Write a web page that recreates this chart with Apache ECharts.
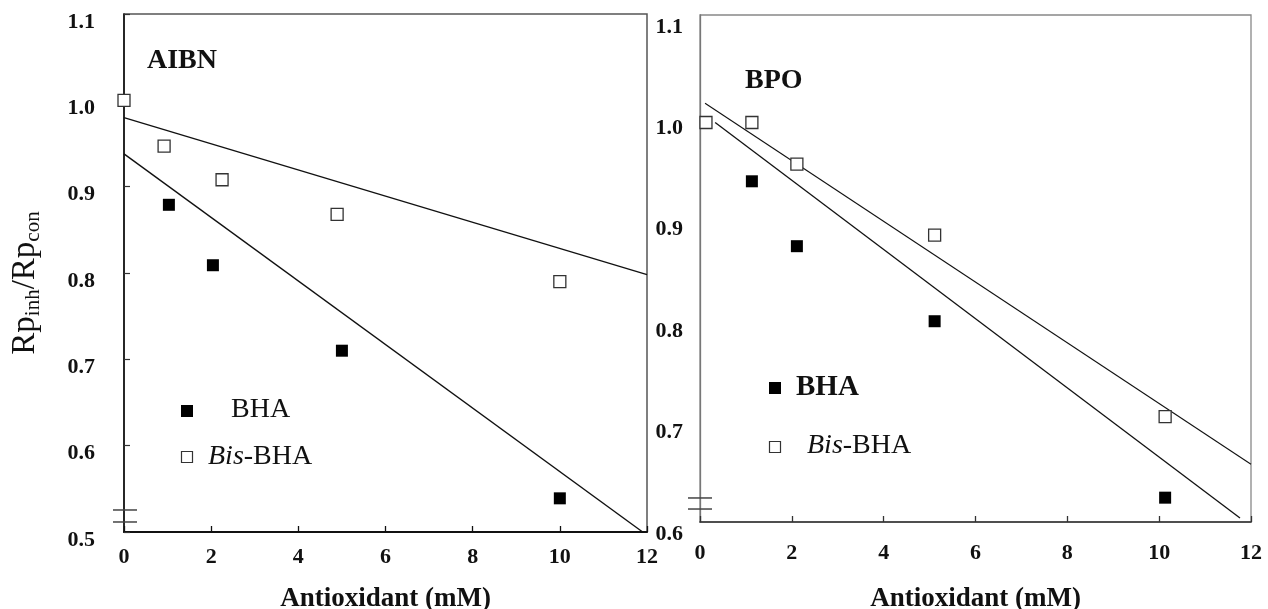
<!DOCTYPE html>
<html>
<head>
<meta charset="utf-8">
<script src="https://cdn.jsdelivr.net/npm/echarts@6/dist/echarts.min.js"></script>
<style>
  html, body { margin: 0; padding: 0; background: #fff; }
  #chart { width: 1268px; height: 609px; }
</style>
</head>
<body>
<div id="chart"></div>
<script>
// AIBN panel (left)
var aibnBha = [[1.03, 0.879], [2.04, 0.809], [5.0, 0.710], [10.0, 0.539]];
var aibnBis = [[0, 1.0], [0.92, 0.947], [2.25, 0.908], [4.89, 0.868], [10.0, 0.790]];
var aibnBhaFit = [[0, 0.938], [11.9, 0.5]];
var aibnBisFit = [[0, 0.980], [12, 0.798]];
var aibnBreaks = [0.5255, 0.5116];

// BPO panel (right)
var bpoBha = [[1.13, 0.936], [2.11, 0.872], [5.11, 0.798], [10.13, 0.624]];
var bpoBis = [[0.13, 0.994], [1.13, 0.994], [2.11, 0.953], [5.11, 0.883], [10.13, 0.704]];
var bpoBhaFit = [[0.33, 0.994], [11.76, 0.604]];
var bpoBisFit = [[0.11, 1.013], [12, 0.657]];
var bpoBreaks = [0.6237, 0.6128];

var xRange = [0, 12];
var aibnYRange = [0.5, 1.1];
var bpoYRange = [0.6, 1.1];

var serif = '"Liberation Serif", "Times New Roman", serif';
var ink = '#111';

var chart = echarts.init(document.getElementById('chart'));

function xAxisOf(grid, lineW, lineColor, margin, gap) {
  return {
    gridIndex: grid, type: 'value', min: xRange[0], max: xRange[1], interval: 2,
    axisLine: { onZero: false, lineStyle: { color: lineColor, width: lineW } },
    axisTick: { inside: true, length: 6, lineStyle: { color: lineColor, width: 1.3 } },
    axisLabel: { color: ink, fontFamily: serif, fontWeight: 'bold', fontSize: 22, margin: margin },
    splitLine: { show: false },
    name: 'Antioxidant (mM)', nameLocation: 'middle', nameGap: gap,
    nameTextStyle: { color: ink, fontFamily: serif, fontWeight: 'bold', fontSize: 27 }
  };
}

// y tick labels sit a little below their ticks in the original
function yLabel(margin, drop) {
  return {
    color: ink, fontFamily: serif, fontWeight: 'bold', fontSize: 22, margin: margin,
    formatter: function (v) { return '{t|' + v.toFixed(1) + '}'; },
    rich: { t: { fontFamily: serif, fontWeight: 'bold', fontSize: 22, color: ink, padding: [drop * 2, 0, 0, 0] } }
  };
}

function lineSeries(ax, data, w) {
  return {
    type: 'line', xAxisIndex: ax, yAxisIndex: ax, data: data, symbol: 'none', silent: true,
    clip: false, lineStyle: { color: ink, width: w }, z: 2
  };
}

function filled(ax, data) {
  return {
    type: 'scatter', xAxisIndex: ax, yAxisIndex: ax, data: data, symbol: 'rect', symbolSize: 12,
    itemStyle: { color: '#000', opacity: 1 }, z: 5
  };
}

function open(ax, data) {
  return {
    type: 'scatter', xAxisIndex: ax, yAxisIndex: ax, data: data, symbol: 'rect', symbolSize: 12,
    itemStyle: { color: '#fff', borderColor: '#333', borderWidth: 1.3, opacity: 1 }, z: 5
  };
}

chart.setOption({
  backgroundColor: '#fff',
  animation: false,
  grid: [
    { left: 124, top: 14, width: 523, height: 518, show: true, borderColor: '#555', borderWidth: 1.5, containLabel: false, outerBoundsMode: 'none' },
    { left: 700, top: 15, width: 551, height: 507, show: true, borderColor: '#888', borderWidth: 1.3, containLabel: false, outerBoundsMode: 'none' }
  ],
  xAxis: [
    xAxisOf(0, 2, ink, 14, 54),
    xAxisOf(1, 1.6, '#333', 20, 64)
  ],
  yAxis: [
    {
      gridIndex: 0, type: 'value', min: aibnYRange[0], max: aibnYRange[1], interval: 0.1,
      axisLine: { onZero: false, lineStyle: { color: ink, width: 1.6 } },
      axisTick: { inside: true, length: 6, lineStyle: { color: '#333', width: 1.2 } },
      axisLabel: yLabel(29, 8),
      splitLine: { show: false }
    },
    {
      gridIndex: 1, type: 'value', min: bpoYRange[0], max: bpoYRange[1], interval: 0.1,
      axisLine: { onZero: false, lineStyle: { color: '#777', width: 1.3 } },
      axisTick: { show: false },
      axisLabel: yLabel(17, 12),
      splitLine: { show: false }
    }
  ],
  series: [
    lineSeries(0, aibnBhaFit, 1.4),
    lineSeries(0, aibnBisFit, 1.3),
    filled(0, aibnBha),
    open(0, aibnBis),
    lineSeries(1, bpoBhaFit, 1.3),
    lineSeries(1, bpoBisFit, 1.1),
    filled(1, bpoBha),
    open(1, bpoBis)
  ],
  graphic: [
    {
      id: 'ytitle', type: 'text', x: 25, y: 283, rotation: Math.PI / 2,
      style: {
        text: '{m|Rp}{s|inh}{m|/Rp}{s|con}', align: 'center', verticalAlign: 'middle', fill: ink,
        rich: {
          m: { fontFamily: serif, fontSize: 33, fill: ink, color: ink },
          s: { fontFamily: serif, fontSize: 21, fill: ink, color: ink, padding: [16, 0, 0, 0] }
        }
      }
    },
    { id: 'aibn', type: 'text', x: 147, y: 61, style: { text: 'AIBN', font: 'bold 28px ' + serif, fill: ink, verticalAlign: 'middle' } },
    { id: 'bpo', type: 'text', x: 745, y: 81, style: { text: 'BPO', font: 'bold 28px ' + serif, fill: ink, verticalAlign: 'middle' } },

    // left legend
    { id: 'lg1', type: 'rect', shape: { x: 181, y: 405, width: 12, height: 12 }, style: { fill: '#000' } },
    { id: 'lt1', type: 'text', x: 231, y: 410, style: { text: 'BHA', font: '28px ' + serif, fill: ink, verticalAlign: 'middle' } },
    { id: 'lg2', type: 'rect', shape: { x: 181.5, y: 451.5, width: 11, height: 11 }, style: { fill: '#fff', stroke: '#333', lineWidth: 1.2 } },
    {
      id: 'lt2', type: 'text', x: 208, y: 457,
      style: {
        text: '{i|Bis}{n|-BHA}', verticalAlign: 'middle', fill: ink,
        rich: {
          i: { fontFamily: serif, fontStyle: 'italic', fontSize: 28, fill: ink, color: ink },
          n: { fontFamily: serif, fontSize: 28, fill: ink, color: ink }
        }
      }
    },

    // right legend
    { id: 'rg1', type: 'rect', shape: { x: 769, y: 382, width: 12, height: 12 }, style: { fill: '#000' } },
    { id: 'rt1', type: 'text', x: 796, y: 388, style: { text: 'BHA', font: 'bold 29px ' + serif, fill: ink, verticalAlign: 'middle' } },
    { id: 'rg2', type: 'rect', shape: { x: 769.5, y: 441.5, width: 11, height: 11 }, style: { fill: '#fff', stroke: '#333', lineWidth: 1.2 } },
    {
      id: 'rt2', type: 'text', x: 807, y: 446,
      style: {
        text: '{i|Bis}{n|-BHA}', verticalAlign: 'middle', fill: ink,
        rich: {
          i: { fontFamily: serif, fontStyle: 'italic', fontSize: 28, fill: ink, color: ink },
          n: { fontFamily: serif, fontSize: 28, fill: ink, color: ink }
        }
      }
    }
  ]
});

// axis-break marks, placed through the axes' own scales
function breakMarks(grid, values, x0, x1) {
  return values.map(function (v, i) {
    var a = chart.convertToPixel({ gridIndex: grid }, [0, v]);
    return {
      id: 'break' + grid + '_' + i, type: 'line', z: 10,
      shape: { x1: a[0] + x0, y1: a[1], x2: a[0] + x1, y2: a[1] },
      style: { stroke: '#444', lineWidth: 1.5 }
    };
  });
}

chart.setOption({
  graphic: breakMarks(0, aibnBreaks, -11, 13).concat(breakMarks(1, bpoBreaks, -12, 12))
});
</script>
</body>
</html>
